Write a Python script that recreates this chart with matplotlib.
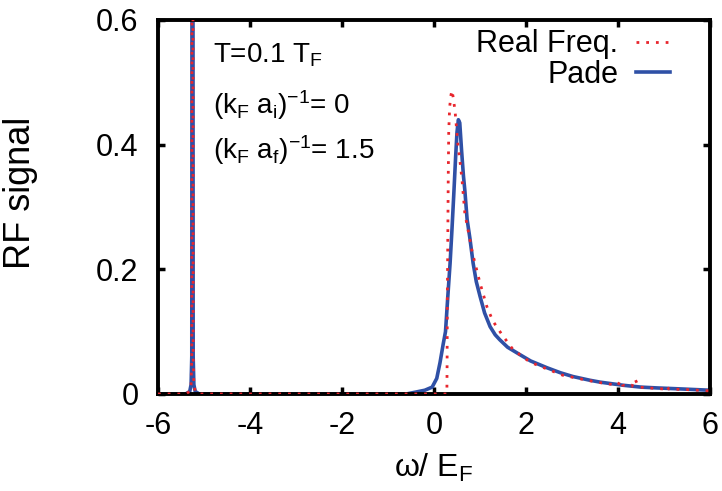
import matplotlib
matplotlib.use('Agg')
import matplotlib.pyplot as plt

plt.rcParams['font.family'] = ['Liberation Sans', 'DejaVu Sans']
plt.rcParams['mathtext.fontset'] = 'custom'
plt.rcParams['mathtext.rm'] = 'Liberation Sans'
plt.rcParams['mathtext.it'] = 'Liberation Sans'
plt.rcParams['mathtext.default'] = 'regular'
plt.rcParams['axes.unicode_minus'] = False

# spektrum-daten
pade_x = [-6.0, -5.40, -5.31, -5.28, -5.265, -5.255, -5.245, -5.235, -5.22, -5.19, -5.10,
          -0.6, -0.4, -0.2, -0.04, 0.06, 0.13, 0.2, 0.25, 0.30, 0.35, 0.39, 0.43, 0.47,
          0.50, 0.53, 0.56, 0.60, 0.64, 0.67, 0.72, 0.78, 0.85, 0.92, 1.0, 1.1, 1.22, 1.33,
          1.43, 1.6, 1.87, 2.1, 2.46, 2.75, 3.02, 3.39, 3.61, 4.11, 4.5, 4.85, 5.4, 6.0]
pade_y = [0, 0, 0.004, 0.015, 0.06, 1.5, 1.5, 0.06, 0.015, 0.004, 0,
          0, 0.003, 0.006, 0.011, 0.025, 0.05, 0.08, 0.10, 0.156, 0.21, 0.263, 0.32, 0.38,
          0.42, 0.44, 0.435, 0.39, 0.35, 0.327, 0.28, 0.25, 0.21, 0.18, 0.157, 0.13, 0.108, 0.095,
          0.087, 0.075, 0.063, 0.053, 0.042, 0.034, 0.028, 0.022, 0.019, 0.014, 0.011, 0.0097, 0.008, 0.006]

real_x = [-6.0, -5.40, -5.31, -5.28, -5.265, -5.255, -5.245, -5.235, -5.22, -5.19, -5.10,
          0.27, 0.28, 0.285, 0.29, 0.30, 0.31, 0.32, 0.34, 0.37, 0.39, 0.42, 0.46, 0.52,
          0.57, 0.61, 0.67, 0.74, 0.83, 1.0, 1.15, 1.28, 1.48, 1.72, 2.09, 2.46, 2.8,
          3.33, 3.7, 4.0, 4.05, 4.1, 4.3, 4.37, 4.45, 4.8, 5.0, 5.05, 5.1, 5.5, 6.0]
real_y = [0, 0, 0.004, 0.015, 0.06, 1.5, 1.5, 0.06, 0.015, 0.004, 0,
          0, 0.0, 0.05, 0.15, 0.25, 0.35, 0.42, 0.46, 0.48, 0.487, 0.475, 0.452, 0.40,
          0.37, 0.343, 0.29, 0.263, 0.228, 0.178, 0.14, 0.117, 0.095, 0.071, 0.051, 0.04, 0.03,
          0.022, 0.017, 0.014, 0.022, 0.014, 0.012, 0.024, 0.011, 0.009, 0.008, 0.013, 0.008, 0.007, 0.005]

fig = plt.figure(figsize=(7.22, 4.91), dpi=100)
ax = fig.add_axes([0.2188, 0.1976, 0.7646, 0.7617])

ax.plot(real_x, real_y, color='#e8262d', lw=2.0, linestyle=(0, (1, 2.5)), label='Real Freq.', zorder=3)
ax.plot(pade_x, pade_y, color='#2f50a6', lw=2.6, label='Pade', zorder=2)

ax.set_xlim(-6, 6)
ax.set_ylim(0, 0.6)
ax.set_xticks([-6, -4, -2, 0, 2, 4, 6])
ax.set_yticks([0, 0.2, 0.4, 0.6])
ax.set_yticklabels(['0', '0.2', '0.4', '0.6'])
ax.tick_params(direction='in', length=5, width=2.5, labelsize=22, top=True, right=True)
ax.tick_params(axis='x', pad=12)
ax.tick_params(axis='y', pad=14)
for s in ax.spines.values():
    s.set_linewidth(2.8)

ax.set_xlabel(r'ω/ E$_F$', fontsize=23, labelpad=8)
ax.set_ylabel('RF signal', fontsize=26)
ax.yaxis.set_label_coords(-0.218, 0.537)

ax.text(0.10, 0.906, r'T=0.1 T$_F$', transform=ax.transAxes, fontsize=20, va='center')
ax.text(0.10, 0.773, r'(k$_F$ a$_i$)$^{-1}$= 0', transform=ax.transAxes, fontsize=20, va='center')
ax.text(0.10, 0.652, r'(k$_F$ a$_f$)$^{-1}$= 1.5', transform=ax.transAxes, fontsize=20, va='center')

ax.legend(loc='upper right', bbox_to_anchor=(0.9275, 0.975), frameon=False, fontsize=22,
          markerfirst=False, handlelength=1.1, borderaxespad=0, borderpad=0,
          labelspacing=0.02, handletextpad=0.6)

fig.savefig('out.png', dpi=100)
